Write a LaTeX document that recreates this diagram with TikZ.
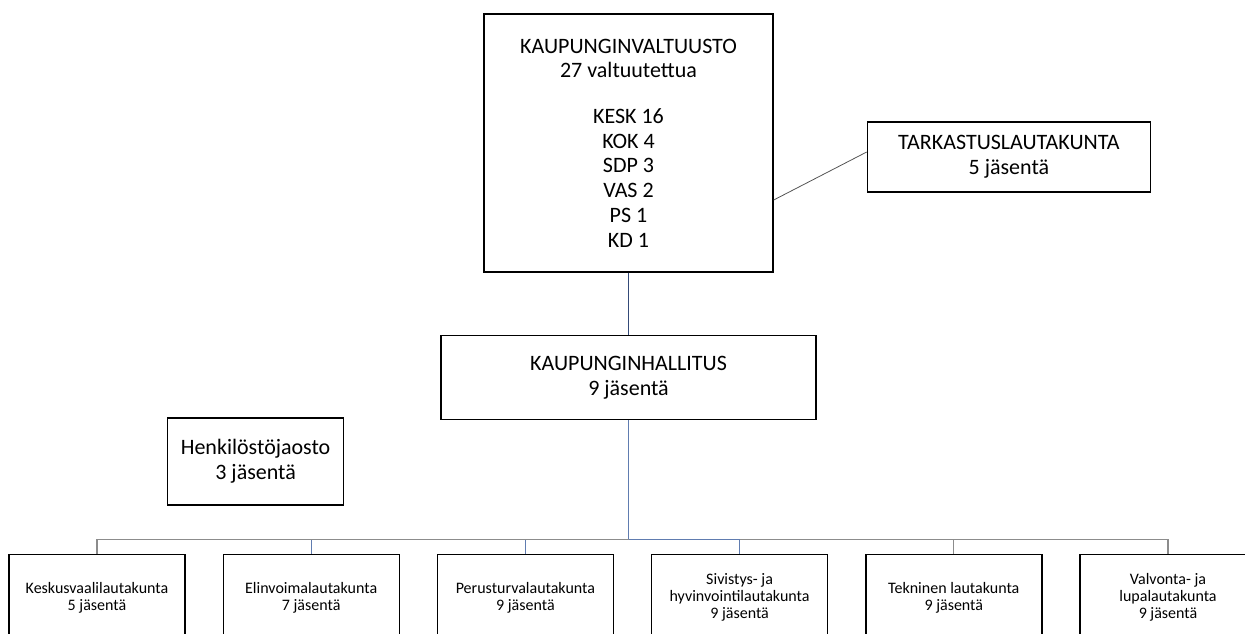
\documentclass[tikz,border=0pt]{standalone}
\usepackage{fontspec}
\setmainfont{Carlito}
\usetikzlibrary{positioning}
\definecolor{navyline}{RGB}{52,74,120}
\definecolor{blueline}{RGB}{96,124,176}
\definecolor{greyline}{RGB}{140,140,140}
\definecolor{sideline}{RGB}{85,85,85}
\tikzset{
	organ/.style={rectangle, draw=black, line width=1.4pt, align=center, inner sep=0pt, font=\fontsize{22}{24.7}\selectfont},
	board/.style={rectangle, draw=black, line width=1.4pt, align=center, inner sep=0pt, minimum width=176pt, minimum height=86pt, font=\fontsize{16}{17}\selectfont},
	link/.style={line width=1.1pt}
}
\begin{document}
\begin{tikzpicture}[x=1pt,y=1pt]
	\useasboundingbox (0,0) rectangle (1245,-634);
	\clip (0,0) rectangle (1245,-634);
	% council and its boards
	\node[organ, minimum width=289pt, minimum height=258pt] at (628.5,-143) (valt) {KAUPUNGINVALTUUSTO\\27 valtuutettua\\[21pt]KESK 16\\KOK 4\\SDP 3\\VAS 2\\PS 1\\KD 1};
	\node[organ, minimum width=283pt, minimum height=70pt, anchor=west] at ([xshift=93pt,yshift=-14pt]valt.east) (tark) {TARKASTUSLAUTAKUNTA\\5 jäsentä};
	\node[organ, minimum width=375pt, minimum height=84pt, anchor=north] at ([yshift=-62pt]valt.south) (hall) {KAUPUNGINHALLITUS\\9 jäsentä};
	\node[organ, minimum width=176pt, minimum height=87pt, anchor=north east] at ([xshift=-96pt,yshift=3pt]hall.south west) (henk) {Henkilöstöjaosto\\3 jäsentä};
	% lautakunnat
	\node[board, anchor=north] at (97,-554) (kesk) {Keskusvaalilautakunta\\5 jäsentä};
	\node[board, anchor=west] at ([xshift=36.8pt]kesk.east) (elin) {Elinvoimalautakunta\\7 jäsentä};
	\node[board, anchor=west] at ([xshift=36.8pt]elin.east) (peru) {Perusturvalautakunta\\9 jäsentä};
	\node[board, anchor=west] at ([xshift=36.8pt]peru.east) (sivi) {Sivistys- ja\\hyvinvointilautakunta\\9 jäsentä};
	\node[board, anchor=west] at ([xshift=36.8pt]sivi.east) (tekn) {Tekninen lautakunta\\9 jäsentä};
	\node[board, anchor=west] at ([xshift=36.8pt]tekn.east) (valv) {Valvonta- ja\\lupalautakunta\\9 jäsentä};
	\coordinate (bus) at ([yshift=-119pt]hall.south);
	% connectors
	\draw[link, sideline, line width=0.8pt] ([yshift=-57pt]valt.east) -- ([yshift=5pt]tark.west);
	\draw[link, navyline] (valt.south) -- (hall.north);
	\draw[link, blueline] (hall.south) -- (bus);
	\draw[link, blueline] (bus) -| (elin.north);
	\draw[link, blueline] (bus) -| (peru.north);
	\draw[link, greyline] (bus) -| (kesk.north);
	\draw[link, greyline] (bus) -| (tekn.north);
	\draw[link, greyline] (bus) -| (valv.north);
	\draw[link, blueline] (bus) -| (sivi.north);
\end{tikzpicture}
\end{document}
